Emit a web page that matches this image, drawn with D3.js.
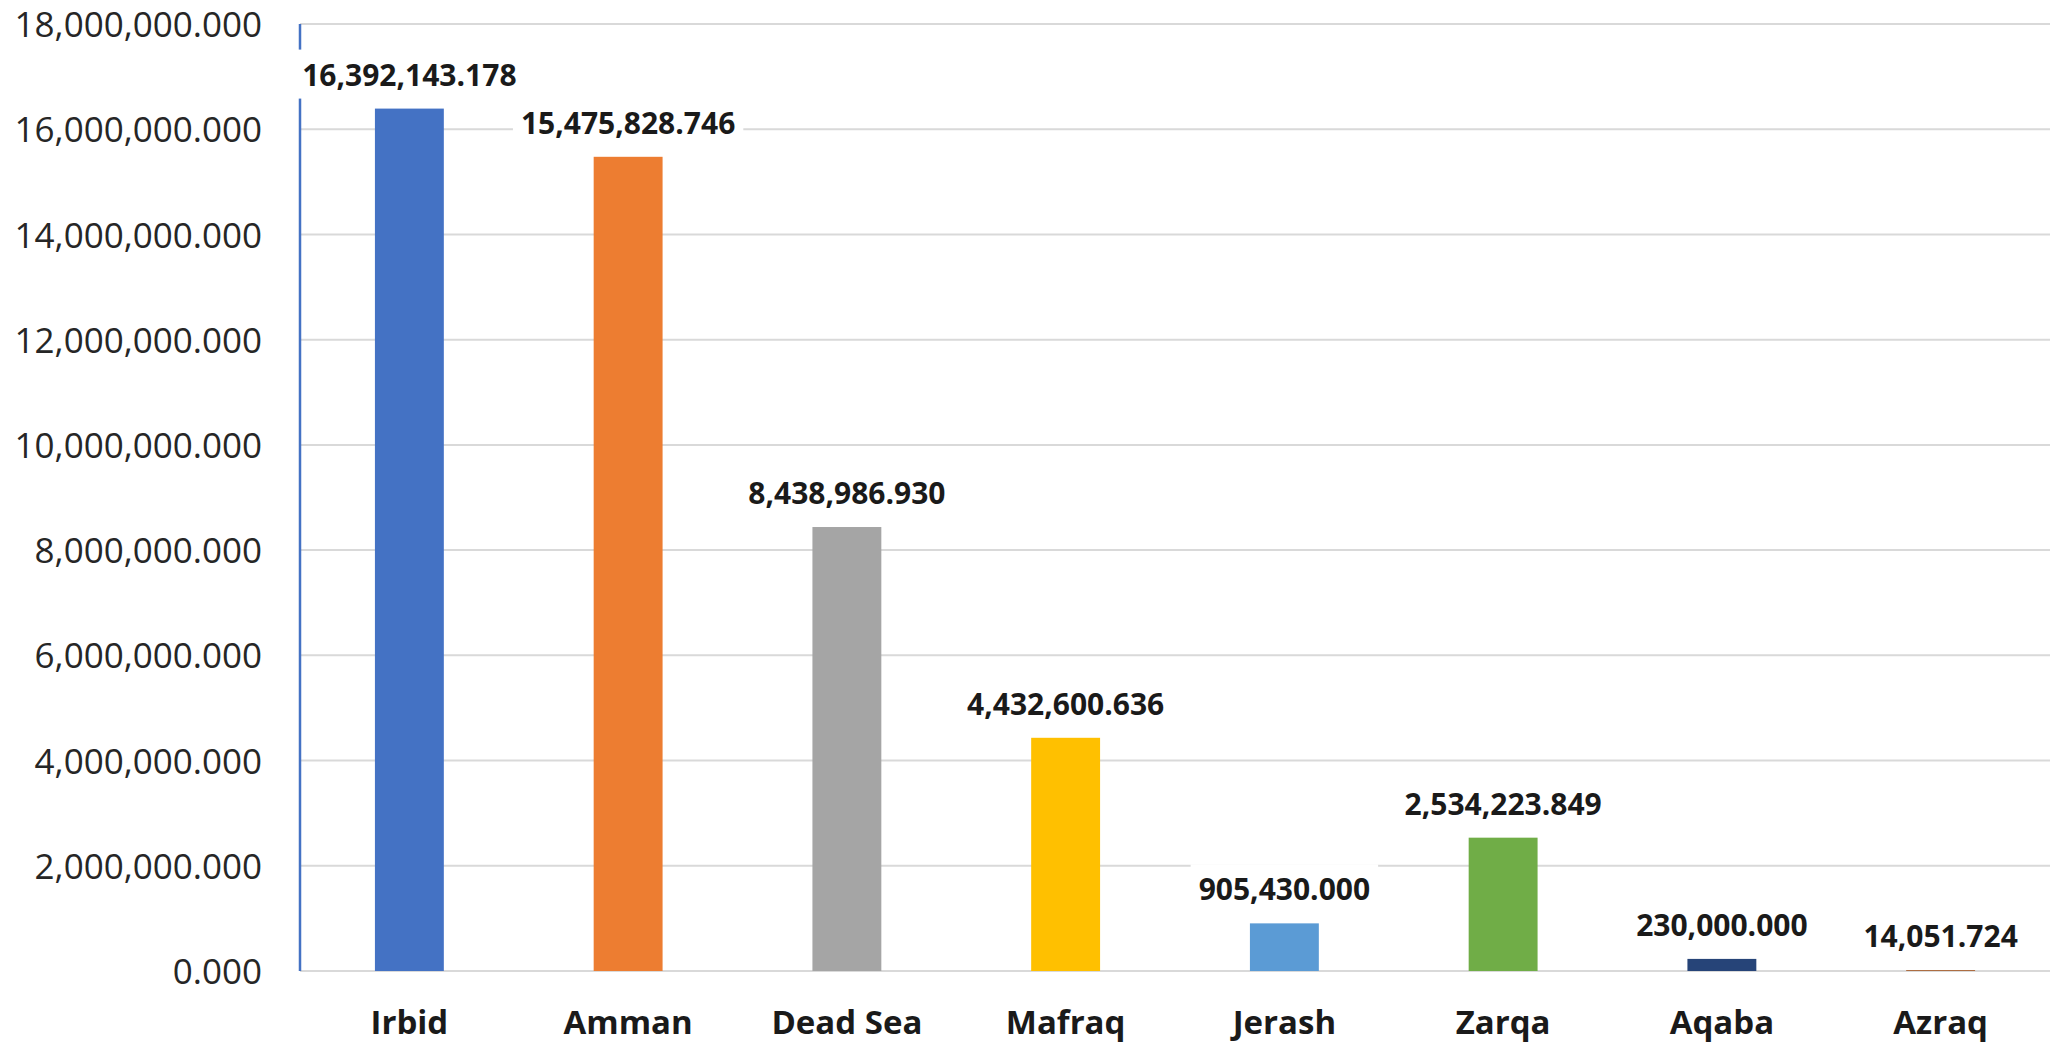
<!DOCTYPE html>
<html>
<head>
<meta charset="utf-8">
<script src="https://cdn.jsdelivr.net/npm/d3@7"></script>
<style>
  body { margin: 0; background: #fff; }
  svg { display: block; }
</style>
</head>
<body>
<div id="graf"></div>
<script>
// Data
const regiones = ["Irbid", "Amman", "Dead Sea", "Mafraq", "Jerash", "Zarqa", "Aqaba", "Azraq"]
const valores = [16392143.178, 15475828.746, 8438986.93, 4432600.636, 905430.0, 2534223.849, 230000.0, 14051.724]
const colores = ["#4472C4", "#ED7D31", "#A5A5A5", "#FFC000", "#5B9BD5", "#70AD47", "#264478", "#9E480E"]
const yTicks = [0, 2000000, 4000000, 6000000, 8000000, 10000000, 12000000, 14000000, 16000000, 18000000]

const data = regiones.map((r, i) => ({ region: r, valor: valores[i], color: colores[i] }))

// Dimensions
const anchoTotal = 2055
const altoTotal = 1044
const margins = { top: 24, right: 5, bottom: 73, left: 300 }
const ancho = anchoTotal - margins.left - margins.right
const alto = altoTotal - margins.top - margins.bottom

const svg = d3
  .select("#graf")
  .append("svg")
  .attr("width", anchoTotal)
  .attr("height", altoTotal)

const g = svg
  .append("g")
  .attr("transform", `translate(${margins.left}, ${margins.top})`)

// Scales
const x = d3
  .scaleBand()
  .domain(regiones)
  .range([0, ancho])
  .paddingInner(0.685)
  .paddingOuter(0.3425)

const y = d3.scaleLinear().domain([0, 18000000]).range([alto, 0])

const fmt = d3.format(",.3f")

// Gridlines
g.append("g")
  .selectAll("line")
  .data(yTicks)
  .enter()
  .append("line")
  .attr("x1", 0)
  .attr("x2", ancho)
  .attr("y1", (d) => y(d))
  .attr("y2", (d) => y(d))
  .attr("stroke", "#d9d9d9")
  .attr("stroke-width", 2)

// Y axis
const yAxis = d3
  .axisLeft(y)
  .tickValues(yTicks)
  .tickFormat(fmt)
  .tickSize(0)
  .tickPadding(38)

const yAxisGroup = g.append("g").call(yAxis)
yAxisGroup.select(".domain").remove()
yAxisGroup
  .selectAll("text")
  .attr("font-family", "'Open Sans', sans-serif")
  .attr("font-size", 35)
  .attr("fill", "#262626")
  .attr("dy", "0.36em")

// axis line (blue)
g.append("line")
  .attr("x1", 0)
  .attr("x2", 0)
  .attr("y1", y(18000000))
  .attr("y2", y(0))
  .attr("stroke", "#4472C4")
  .attr("stroke-width", 2.5)

// X axis
const xAxis = d3.axisBottom(x).tickSize(0).tickPadding(40)
const xAxisGroup = g
  .append("g")
  .attr("transform", `translate(0, ${alto})`)
  .call(xAxis)
xAxisGroup.select(".domain").remove()
xAxisGroup
  .selectAll("text")
  .attr("font-family", "'Open Sans', sans-serif")
  .attr("font-size", 33)
  .attr("font-weight", "bold")
  .attr("fill", "#1a1a1a")

// Bars
g.append("g")
  .selectAll("rect")
  .data(data)
  .enter()
  .append("rect")
  .attr("x", (d) => x(d.region))
  .attr("y", (d) => y(d.valor))
  .attr("width", x.bandwidth())
  .attr("height", (d) => alto - y(d.valor))
  .attr("fill", (d) => d.color)

// Data labels with white background
const etiquetas = g.append("g")
const et = etiquetas
  .selectAll("g")
  .data(data)
  .enter()
  .append("g")

const textos = et
  .append("text")
  .attr("x", (d) => x(d.region) + x.bandwidth() / 2)
  .attr("y", (d) => y(d.valor) - 23)
  .attr("text-anchor", "middle")
  .attr("font-family", "'Open Sans', sans-serif")
  .attr("font-size", 30)
  .attr("font-weight", "bold")
  .attr("fill", "#1a1a1a")
  .text((d) => fmt(d.valor))

textos.each(function () {
  const b = this.getBBox()
  d3.select(this.parentNode)
    .insert("rect", "text")
    .attr("x", b.x - 8)
    .attr("y", b.y - 4)
    .attr("width", b.width + 16)
    .attr("height", b.height + 8)
    .attr("fill", "white")
})
</script>
</body>
</html>
